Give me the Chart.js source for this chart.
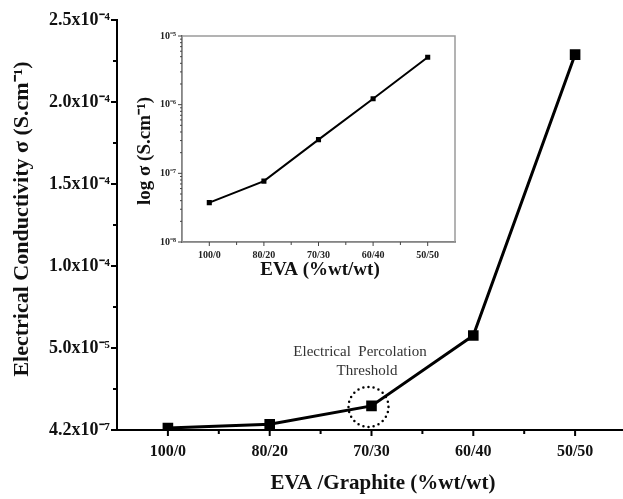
<!DOCTYPE html>
<html>
<head>
<meta charset="utf-8">
<script src="https://cdn.jsdelivr.net/npm/chart.js@4.4.1/dist/chart.umd.min.js"></script>
<style>
html, body { margin: 0; padding: 0; background: #fff; overflow: hidden; }
#wrap { position: relative; width: 623px; height: 499px; overflow: hidden; }
#wrap canvas { position: absolute; left: 0; top: 0; }
</style>
</head>
<body>
<div id="wrap">
  <canvas id="main" width="626" height="499"></canvas>
  <canvas id="inset" width="623" height="499"></canvas>
</div>
<script>
// data
const categories = ['100/0', '80/20', '70/30', '60/40', '50/50'];
const conductivity = [1.2e-6, 3.5e-6, 1.47e-5, 5.76e-5, 2.289e-4];
const yTickLabels = ['4.2x10⁻⁷', '5.0x10⁻⁵', '1.0x10⁻⁴', '1.5x10⁻⁴', '2.0x10⁻⁴', '2.5x10⁻⁴'];

const insetConductivity = [3.75e-8, 7.7e-8, 3.1e-7, 1.22e-6, 4.9e-6];
const insetTickLabels = ['10⁻⁸', '10⁻⁷', '10⁻⁶', '10⁻⁵'];

const SERIF = "'Liberation Serif', 'Times New Roman', serif";

// small tick marks on both axes (major + minor), drawn from the scales
const axisTicks = {
  id: 'axisTicks',
  afterDraw(chart, args, o) {
    const ctx = chart.ctx;
    const x = chart.scales.x, y = chart.scales.y;
    const base = chart.chartArea.bottom, left = chart.chartArea.left;
    ctx.save();
    ctx.strokeStyle = o.color;
    ctx.lineWidth = o.width;
    ctx.beginPath();
    x.ticks.forEach((t, i) => {
      const px = x.getPixelForTick(i);
      ctx.moveTo(px, base); ctx.lineTo(px, base + o.xMajor);
      if (i < x.ticks.length - 1) {
        const mx = (px + x.getPixelForTick(i + 1)) / 2;
        ctx.moveTo(mx, base); ctx.lineTo(mx, base + o.xMinor);
      }
    });
    if (o.log) {
      const lo = Math.round(Math.log10(y.min)), hi = Math.round(Math.log10(y.max));
      for (let e = lo; e <= hi; e++) {
        const py = y.getPixelForValue(Math.pow(10, e));
        ctx.moveTo(left, py); ctx.lineTo(left - o.yMajor, py);
        if (e < hi) {
          for (let m = 2; m <= 9; m++) {
            const pm = y.getPixelForValue(m * Math.pow(10, e));
            ctx.moveTo(left, pm); ctx.lineTo(left - o.yMinor, pm);
          }
        }
      }
    } else {
      y.ticks.forEach((t, i) => {
        const py = y.getPixelForValue(t.value);
        ctx.moveTo(left, py); ctx.lineTo(left - o.yMajor, py);
        if (i < y.ticks.length - 1) {
          const pm = y.getPixelForValue((t.value + y.ticks[i + 1].value) / 2);
          ctx.moveTo(left, pm); ctx.lineTo(left - o.yMinor, pm);
        }
      });
    }
    ctx.stroke();
    ctx.restore();
  }
};

// axis titles and the percolation note
const mainExtras = {
  id: 'mainExtras',
  afterDraw(chart) {
    const ctx = chart.ctx;
    ctx.save();
    ctx.fillStyle = '#111';
    ctx.textAlign = 'center';
    ctx.textBaseline = 'middle';
    ctx.font = 'bold 22px ' + SERIF;
    ctx.save();
    ctx.translate(22, 219);
    ctx.rotate(-Math.PI / 2);
    ctx.fillText('Electrical Conductivity σ (S.cm⁻¹)', 0, 0);
    ctx.restore();
    ctx.font = 'bold 21px ' + SERIF;
    ctx.fillText('EVA /Graphite (%wt/wt)', 383, 484);

    // dotted circle around the 70/30 point
    const meta = chart.getDatasetMeta(0);
    const p = meta.data[2];
    ctx.strokeStyle = '#000';
    ctx.lineWidth = 2.5;
    ctx.lineCap = 'round';
    ctx.setLineDash([0, 5.2]);
    ctx.beginPath();
    ctx.arc(p.x - 3, p.y + 1, 20, 0, Math.PI * 2);
    ctx.stroke();
    ctx.setLineDash([]);

    ctx.fillStyle = '#333';
    ctx.font = '15px ' + SERIF;
    ctx.fillText('Electrical  Percolation', p.x - 11.5, p.y - 54);
    ctx.fillText('Threshold', p.x - 4.5, p.y - 35);
    ctx.restore();
  }
};

new Chart(document.getElementById('main'), {
  type: 'line',
  data: {
    labels: categories,
    datasets: [{
      data: conductivity,
      borderColor: '#000',
      backgroundColor: '#000',
      borderWidth: 3,
      pointStyle: 'rect',
      pointRadius: 7.5,
      pointHoverRadius: 7.5,
      pointBorderWidth: 0,
      tension: 0
    }]
  },
  options: {
    responsive: false,
    animation: false,
    devicePixelRatio: 1,
    layout: { autoPadding: false, padding: { top: 20, right: 0, bottom: 0, left: 0 } },
    plugins: {
      legend: { display: false },
      tooltip: { enabled: false },
      axisTicks: { color: '#000', width: 2, xMajor: 6, xMinor: 4, yMajor: 6, yMinor: 4, log: false }
    },
    scales: {
      x: {
        offset: true,
        grid: { display: false, drawTicks: false },
        border: { display: true, color: '#000', width: 2 },
        ticks: { color: '#111', padding: 12, font: { family: SERIF, size: 16, weight: 'bold' } },
        afterFit(s) { s.height = 69; }
      },
      y: {
        min: 0,
        max: 2.5e-4,
        grid: { display: false, drawTicks: false },
        border: { display: true, color: '#000', width: 2 },
        ticks: {
          stepSize: 5e-5,
          color: '#111',
          padding: 7,
          font: { family: SERIF, size: 18, weight: 'bold' },
          callback: (v, i) => yTickLabels[i]
        },
        afterFit(s) { s.width = 117; }
      }
    }
  },
  plugins: [axisTicks, mainExtras]
});

// inset: log scale
const insetExtras = {
  id: 'insetExtras',
  beforeDatasetsDraw(chart) {
    const ctx = chart.ctx, a = chart.chartArea;
    ctx.save();
    ctx.strokeStyle = '#9a9a9a';
    ctx.lineWidth = 1.5;
    ctx.strokeRect(a.left, a.top, a.right - a.left, a.bottom - a.top);
    ctx.restore();
  },
  afterDraw(chart) {
    const ctx = chart.ctx;
    ctx.save();
    ctx.fillStyle = '#111';
    ctx.textAlign = 'center';
    ctx.textBaseline = 'middle';
    ctx.font = 'bold 19px ' + SERIF;
    ctx.save();
    ctx.translate(145, 151);
    ctx.rotate(-Math.PI / 2);
    ctx.fillText('log σ (S.cm⁻¹)', 0, 0);
    ctx.restore();
    ctx.font = 'bold 19px ' + SERIF;
    ctx.fillText('EVA (%wt/wt)', 320, 270);
    ctx.restore();
  }
};

new Chart(document.getElementById('inset'), {
  type: 'line',
  data: {
    labels: categories,
    datasets: [{
      data: insetConductivity,
      borderColor: '#000',
      backgroundColor: '#000',
      borderWidth: 2,
      pointStyle: 'rect',
      pointRadius: 3.6,
      pointHoverRadius: 3.6,
      pointBorderWidth: 0,
      tension: 0
    }]
  },
  options: {
    responsive: false,
    animation: false,
    devicePixelRatio: 1,
    layout: { autoPadding: false, padding: { top: 36, right: 168, bottom: 0, left: 0 } },
    plugins: {
      legend: { display: false },
      tooltip: { enabled: false },
      axisTicks: { color: '#444', width: 1, xMajor: 4, xMinor: 3, yMajor: 4, yMinor: 2, log: true }
    },
    scales: {
      x: {
        offset: true,
        grid: { display: false, drawTicks: false },
        border: { display: true, color: '#444', width: 1.5 },
        ticks: { color: '#222', padding: 7, font: { family: SERIF, size: 10, weight: 'bold' } },
        afterFit(s) { s.height = 257; }
      },
      y: {
        type: 'logarithmic',
        min: 1e-8,
        max: 1e-5,
        grid: { display: false, drawTicks: false },
        border: { display: true, color: '#444', width: 1.5 },
        ticks: {
          autoSkip: false,
          color: '#222',
          padding: 6,
          font: { family: SERIF, size: 10, weight: 'bold' },
          callback: (v) => {
            const e = Math.log10(v);
            return Math.abs(e - Math.round(e)) < 1e-6 ? insetTickLabels[Math.round(e) + 8] : '';
          }
        },
        afterFit(s) { s.width = 182; }
      }
    }
  },
  plugins: [axisTicks, insetExtras]
});
</script>
</body>
</html>
